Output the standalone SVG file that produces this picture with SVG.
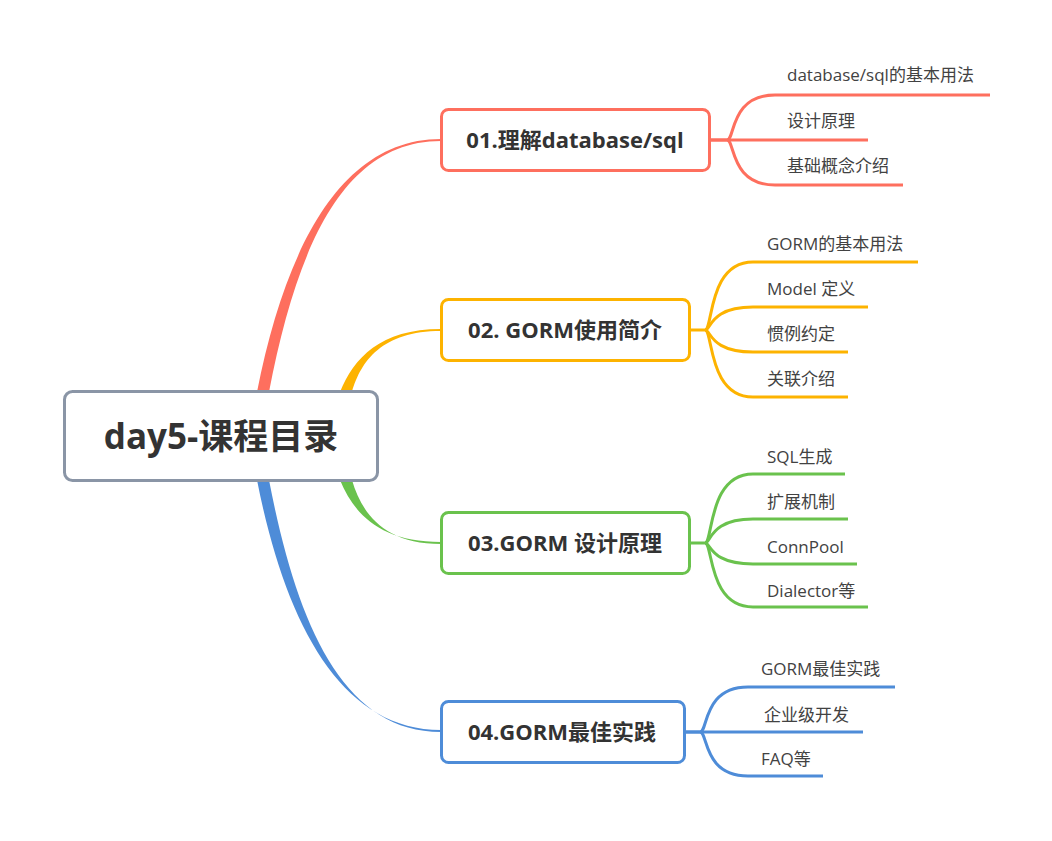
<svg xmlns="http://www.w3.org/2000/svg" width="1052" height="841" viewBox="0 0 1052 841">
<style>
.bg{fill:#ffffff}
.box{fill:#ffffff;stroke-width:3}
.t1{font-family:"Open Sans","Noto Sans CJK SC",sans-serif;font-weight:bold;font-size:22px;fill:#333333;text-anchor:middle}
.t0{font-family:"Open Sans","Noto Sans CJK SC",sans-serif;font-weight:bold;font-size:35px;fill:#333333;text-anchor:middle}
.t2{font-family:"Open Sans","Noto Sans CJK SC",sans-serif;font-size:17px;fill:#424242}
.ln{fill:none;stroke-width:3;stroke-linecap:butt}
.red{stroke:#FE6F5E}.yel{stroke:#FDB300}.grn{stroke:#6AC24D}.blu{stroke:#4E8CD8}
</style>
<rect class="bg" x="0" y="0" width="1052" height="841"/>
<g id="connectors">
  <path d="M257,392 C285,250 340,139 441,139 L441,141 C341,141 296,252 269,392 Z" fill="#FE6F5E"/>
  <path d="M340,392 C354,358 380,329 441,329 L441,331 C382,331 361,361 352,392 Z" fill="#FDB300"/>
  <path d="M340,480 C354,514 380,542 441,542 L441,544 C382,544 361,511 352,480 Z" fill="#6AC24D"/>
  <path d="M257,480 C285,622 340,730 441,730 L441,732 C341,732 296,620 269,480 Z" fill="#4E8CD8"/>

  <path class="ln red" d="M710,140 H727 C735,140 730,95 775,95 H990"/>
  <path class="ln red" d="M710,140 H868"/>
  <path class="ln red" d="M727,140 C735,140 730,185 775,185 H903"/>

  <path class="ln yel" d="M690,330 H705 C713,330 708,262 753,262 H918"/>
  <path class="ln yel" d="M705,330 C711,330 710,307 753,307 H868"/>
  <path class="ln yel" d="M705,330 C711,330 710,352 753,352 H848"/>
  <path class="ln yel" d="M705,330 C713,330 708,397 753,397 H848"/>

  <path class="ln grn" d="M690,543 H705 C713,543 708,474 753,474 H845"/>
  <path class="ln grn" d="M705,543 C711,543 710,519 753,519 H848"/>
  <path class="ln grn" d="M705,543 C711,543 710,564 753,564 H857"/>
  <path class="ln grn" d="M705,543 C713,543 708,607 753,607 H868"/>

  <path class="ln blu" d="M685,732 H700 C708,732 703,687 748,687 H895"/>
  <path class="ln blu" d="M685,732 H863"/>
  <path class="ln blu" d="M700,732 C708,732 703,776 748,776 H823"/>
</g>
<g id="root">
  <rect class="box" x="64.5" y="391.5" width="313" height="89" rx="8" stroke="#8A95A6"/>
  <text class="t0" x="221" y="449">day5-课程目录</text>
</g>
<g id="n1">
  <rect class="box" x="441.5" y="109.5" width="268" height="61" rx="7" stroke="#FE6F5E"/>
  <text class="t1" x="575" y="148">01.理解database/sql</text>
</g>
<g id="n1a"><text class="t2" x="787" y="81">database/sql的基本用法</text></g>
<g id="n1b"><text class="t2" x="787" y="127">设计原理</text></g>
<g id="n1c"><text class="t2" x="787" y="172">基础概念介绍</text></g>
<g id="n2">
  <rect class="box" x="441.5" y="299.5" width="248" height="61" rx="7" stroke="#FDB300"/>
  <text class="t1" x="565" y="338">02. GORM使用简介</text>
</g>
<g id="n2a"><text class="t2" x="767" y="250">GORM的基本用法</text></g>
<g id="n2b"><text class="t2" x="767" y="295">Model 定义</text></g>
<g id="n2c"><text class="t2" x="767" y="340">惯例约定</text></g>
<g id="n2d"><text class="t2" x="767" y="385">关联介绍</text></g>
<g id="n3">
  <rect class="box" x="441.5" y="512.5" width="248" height="61" rx="7" stroke="#6AC24D"/>
  <text class="t1" x="565" y="551">03.GORM 设计原理</text>
</g>
<g id="n3a"><text class="t2" x="767" y="463">SQL生成</text></g>
<g id="n3b"><text class="t2" x="767" y="508">扩展机制</text></g>
<g id="n3c"><text class="t2" x="767" y="553">ConnPool</text></g>
<g id="n3d"><text class="t2" x="767" y="597">Dialector等</text></g>
<g id="n4">
  <rect class="box" x="441.5" y="701.5" width="243" height="61" rx="7" stroke="#4E8CD8"/>
  <text class="t1" x="562" y="740">04.GORM最佳实践</text>
</g>
<g id="n4a"><text class="t2" x="761" y="675">GORM最佳实践</text></g>
<g id="n4b"><text class="t2" x="764" y="721">企业级开发</text></g>
<g id="n4c"><text class="t2" x="761" y="765">FAQ等</text></g>
</svg>
